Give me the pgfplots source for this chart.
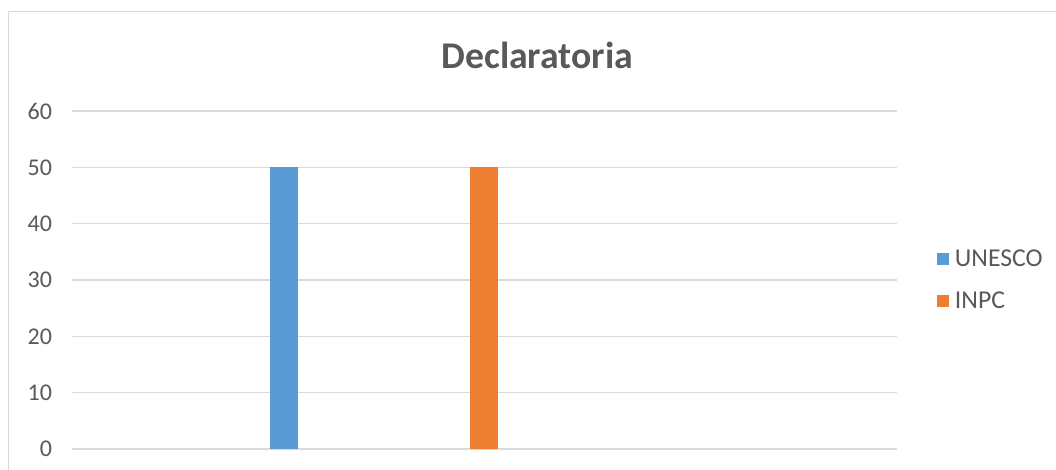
\documentclass[border=0pt]{standalone}
\usepackage{fontspec}
\setmainfont{Carlito}
\usepackage{pgfplots}
\pgfplotsset{compat=1.18}
\definecolor{txtgray}{HTML}{595959}
\definecolor{gridgray}{HTML}{D9D9D9}
\definecolor{xlblue}{HTML}{5B9BD5}
\definecolor{xlorange}{HTML}{ED7D31}
\begin{document}
\begin{tikzpicture}
\useasboundingbox (0,0) rectangle (792pt,352.5pt);
\draw[gridgray, line width=0.75pt] (6pt,-5pt) -- (6pt,343.5pt) -- (800pt,343.5pt);
\begin{axis}[
    at={(54pt,15.75pt)}, anchor=south west,
    scale only axis,
    width=618.75pt, height=253.5pt,
    xmin=72, xmax=897,
    ymin=0, ymax=60,
    ytick={0,10,...,60},
    xtick=\empty,
    axis line style={draw=none},
    major tick length=0pt,
    ymajorgrids,
    grid style={gridgray, line width=0.9pt},
    ybar, bar width=28, bar shift=0pt,
    /pgf/number format/assume math mode=true,
    yticklabel style={font=\fontsize{18}{22}\selectfont, text=txtgray, anchor=east, xshift=-11.5pt},
    title={Declaratoria},
    title style={font=\fontsize{28.3}{33}\selectfont\bfseries, text=txtgray,
                 at={(axis description cs:0.564,1.14)}, anchor=center},
    legend style={draw=none, fill=none, at={(axis description cs:1.0485,0.5)}, anchor=west,
                  font=\fontsize{19.3}{23}\selectfont, text=txtgray,
                  row sep=14pt, inner sep=0pt,
                  /tikz/every even column/.append style={column sep=0pt}},
    legend cell align=left,
    legend image code/.code={\fill[#1] (1.5pt,-4.5pt) rectangle (10.5pt,4.5pt); \path (12.75pt,0pt);},
]
\addplot[fill=xlblue, draw=none] coordinates {(284,50)};
\addlegendentry{UNESCO}
\addplot[fill=xlorange, draw=none] coordinates {(484,50)};
\addlegendentry{INPC}
\end{axis}
\end{tikzpicture}
\end{document}
